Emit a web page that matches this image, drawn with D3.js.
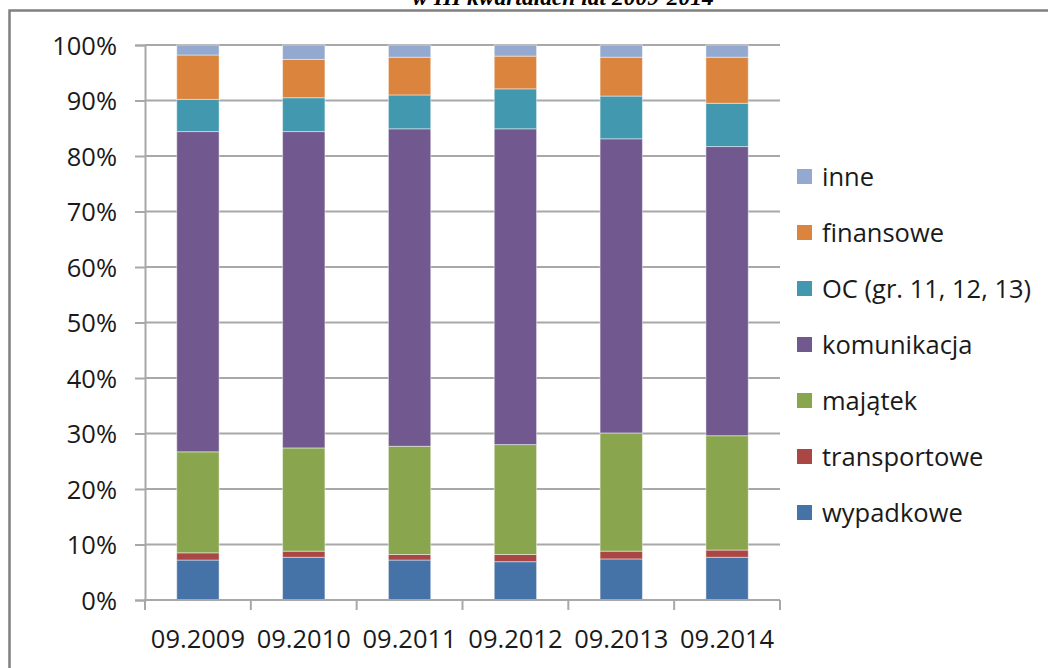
<!DOCTYPE html>
<html>
<head>
<meta charset="utf-8">
<script src="https://cdn.jsdelivr.net/npm/d3@7"></script>
<style>
  html, body { margin: 0; padding: 0; background: #fff; }
  svg { display: block; }
  text { font-family: "Open Sans", "Liberation Sans", sans-serif; fill: #1a1a1a; }
</style>
</head>
<body>
<svg id="chart" width="1048" height="668"></svg>
<script>
// Periods (III quarter of each year)
const categories = ["09.2009", "09.2010", "09.2011", "09.2012", "09.2013", "09.2014"];

// Share of each insurance group, in percent
const wypadkowe    = [7.2, 7.7, 7.2, 6.9, 7.4, 7.7];
const transportowe = [1.3, 1.1, 1.0, 1.3, 1.4, 1.3];
const majatek      = [18.2, 18.6, 19.5, 19.8, 21.3, 20.6];
const komunikacja  = [57.7, 57.0, 57.2, 56.9, 53.0, 52.1];
const oc           = [5.8, 6.1, 6.1, 7.2, 7.7, 7.8];
const finansowe    = [8.0, 6.9, 6.8, 5.9, 7.0, 8.3];
const inne         = [1.8, 2.6, 2.2, 2.0, 2.2, 2.2];

const seriesNames  = ["wypadkowe", "transportowe", "majątek", "komunikacja", "OC (gr. 11, 12, 13)", "finansowe", "inne"];
const seriesValues = [wypadkowe, transportowe, majatek, komunikacja, oc, finansowe, inne];
const seriesColors = ["#4572A7", "#AA4643", "#89A54E", "#71588F", "#4198AF", "#DB843D", "#93A9CF"];

const yTicks = [0, 10, 20, 30, 40, 50, 60, 70, 80, 90, 100];

const title = "w III kwartałach lat 2009-2014";

const svg = d3.select("#chart");

// Outer frame (only top and left edges fall inside the view)
svg.append("path")
  .attr("d", "M9.5,668 L9.5,10.5 L1048,10.5")
  .attr("fill", "none")
  .attr("stroke", "#808080")
  .attr("stroke-width", 2.5);

// Title line, mostly above the top edge of the page
svg.append("text")
  .attr("x", 563)
  .attr("y", 5)
  .attr("text-anchor", "middle")
  .style("font-family", "'Liberation Serif', 'DejaVu Serif', serif")
  .style("font-weight", "bold")
  .style("font-style", "italic")
  .style("font-size", "23.5px")
  .style("fill", "#000")
  .text(title);

const plot = { left: 145, right: 780, top: 45, bottom: 600 };

const x = d3.scaleBand()
  .domain(categories)
  .range([plot.left, plot.right])
  .paddingInner(0.6)
  .paddingOuter(0.3);

const xBoundary = d3.scaleLinear()
  .domain([0, categories.length])
  .range([plot.left, plot.right]);

const y = d3.scaleLinear()
  .domain([0, 100])
  .range([plot.bottom, plot.top]);

// Horizontal gridlines
svg.append("g")
  .selectAll("line")
  .data(yTicks.filter(d => d > 0))
  .join("line")
  .attr("x1", plot.left)
  .attr("x2", plot.right)
  .attr("y1", d => y(d))
  .attr("y2", d => y(d))
  .attr("stroke", "#a8a8a8")
  .attr("stroke-width", 2);

// Stacked bars
const table = categories.map((c, i) => {
  const row = { category: c };
  seriesNames.forEach((name, s) => { row[name] = seriesValues[s][i]; });
  return row;
});

const stacked = d3.stack().keys(seriesNames)(table);

svg.append("g")
  .selectAll("g")
  .data(stacked)
  .join("g")
  .attr("fill", (d, i) => seriesColors[i])
  .selectAll("rect")
  .data(d => d)
  .join("rect")
  .attr("x", d => x(d.data.category))
  .attr("width", x.bandwidth())
  .attr("y", d => y(d[1]))
  .attr("height", d => y(d[0]) - y(d[1]))
  .attr("stroke", "rgba(255,255,255,0.45)")
  .attr("stroke-width", 1);

// Y axis
const yAxis = svg.append("g")
  .attr("transform", `translate(${plot.left},0)`)
  .call(d3.axisLeft(y).tickValues(yTicks).tickFormat(d => d + "%").tickSize(10).tickPadding(18));
yAxis.select(".domain").attr("stroke", "#a8a8a8").attr("stroke-width", 2);
yAxis.selectAll(".tick line").attr("stroke", "#a8a8a8").attr("stroke-width", 2);
yAxis.selectAll(".tick text")
  .style("font-size", "25.5px")
  .style("font-family", "'Open Sans', sans-serif")
  .attr("fill", "#1a1a1a")
  .attr("dy", "0.36em");

// X axis line with ticks at category boundaries
const xAxisG = svg.append("g");
xAxisG.append("line")
  .attr("x1", plot.left - 1)
  .attr("x2", plot.right)
  .attr("y1", plot.bottom)
  .attr("y2", plot.bottom)
  .attr("stroke", "#a8a8a8")
  .attr("stroke-width", 2);
xAxisG.selectAll("line.tick")
  .data(d3.range(categories.length + 1))
  .join("line")
  .attr("class", "tick")
  .attr("x1", d => xBoundary(d))
  .attr("x2", d => xBoundary(d))
  .attr("y1", plot.bottom)
  .attr("y2", plot.bottom + 10)
  .attr("stroke", "#a8a8a8")
  .attr("stroke-width", 2);
xAxisG.selectAll("text")
  .data(categories)
  .join("text")
  .attr("x", d => x(d) + x.bandwidth() / 2)
  .attr("y", 648)
  .attr("text-anchor", "middle")
  .style("font-size", "25.5px")
  .text(d => d);

// Legend, listed from the top series down
const legendItems = seriesNames.map((n, i) => ({ name: n, color: seriesColors[i] })).reverse();
const legend = svg.append("g");
const rowY = d3.scalePoint().domain(legendItems.map(d => d.name)).range([177, 513]);
const rows = legend.selectAll("g")
  .data(legendItems)
  .join("g")
  .attr("transform", d => `translate(797,${rowY(d.name)})`);
rows.append("rect")
  .attr("x", 0)
  .attr("y", -8)
  .attr("width", 15)
  .attr("height", 15)
  .attr("fill", d => d.color);
rows.append("text")
  .attr("x", 25)
  .attr("y", 0)
  .attr("dy", "0.36em")
  .style("font-size", "25.5px")
  .text(d => d.name);
</script>
</body>
</html>
